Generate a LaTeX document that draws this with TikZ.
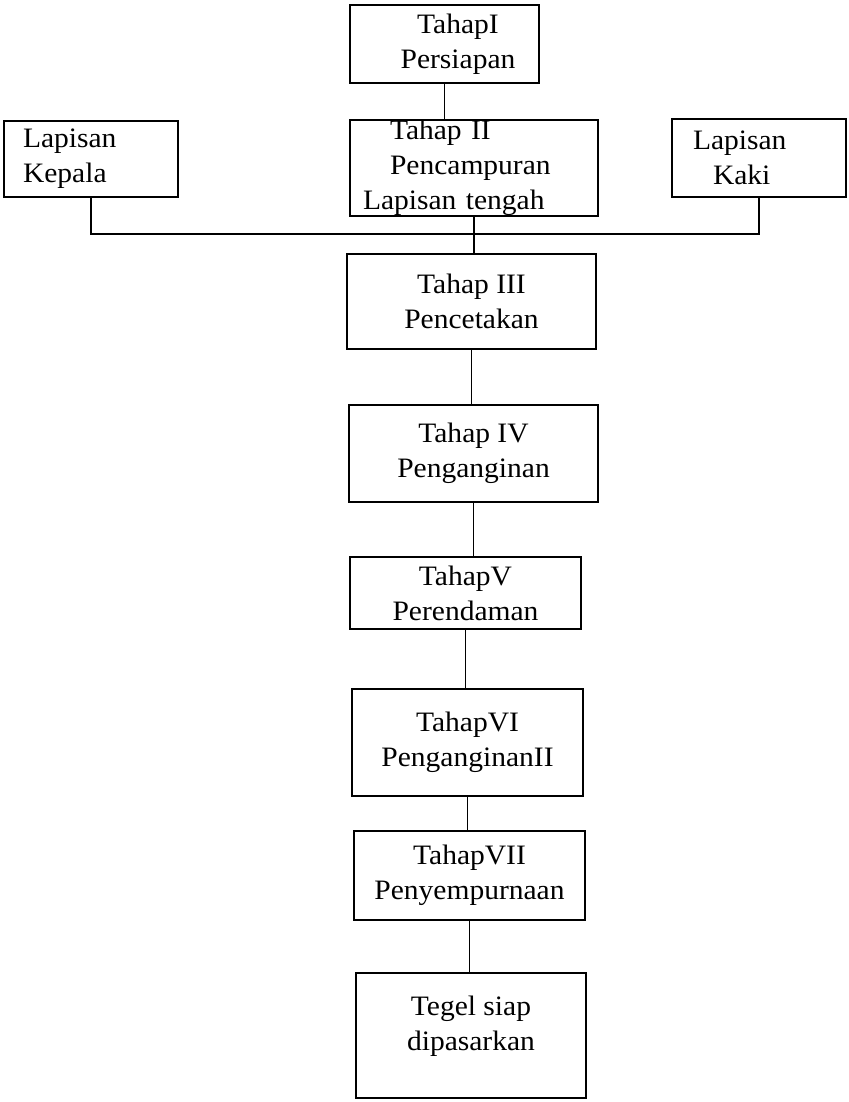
\documentclass[tikz,border=0pt]{standalone}
\usepackage{fontspec}
\setmainfont{Liberation Serif}[FakeStretch=1.05]
\usepackage{tikz}
\usetikzlibrary{calc}

\begin{document}
\begin{tikzpicture}[font=\fontsize{16}{19.8}\selectfont,
    stage/.style={draw, line width=0.7pt, align=center, inner sep=0pt},
    layer/.style={draw, line width=1.4pt, align=left, inner ysep=0pt}]
    \useasboundingbox (0,0) rectangle (16.96,22.04);
    \node[stage, minimum width=3.78cm, minimum height=1.56cm] (s1) at (8.89,21.16) {\hspace*{0.54cm}TahapI\\\hspace*{0.54cm}Persiapan};
    \node[layer, text width=2.72cm, inner xsep=0.38cm, minimum height=1.52cm] (kepala) at (1.82,18.86) {Lapisan\\Kepala};
    \node[stage, align=left, text width=4.44cm, inner xsep=0.26cm, minimum height=1.92cm] (s2) at (9.48,18.68) {\hspace*{0.54cm}Tahap II\\\hspace*{0.54cm}Pencampuran\\Lapisan tengah};
    \node[layer, text width=2.64cm, inner xsep=0.42cm, minimum height=1.56cm] (kaki) at (15.18,18.88) {Lapisan\\\hspace*{0.4cm}Kaki};
    \node[stage, minimum width=4.98cm, minimum height=1.90cm] (s3) at (9.43,16.01) {Tahap III\\Pencetakan};
    \node[stage, minimum width=4.98cm, minimum height=1.94cm] (s4) at (9.47,12.97) {Tahap IV\\Penganginan};
    \node[stage, minimum width=4.62cm, minimum height=1.44cm] (s5) at (9.31,10.18) {TahapV\\Perendaman};
    \node[stage, minimum width=4.62cm, minimum height=2.14cm] (s6) at (9.35,7.19) {TahapVI\\PenganginanII};
    \node[stage, minimum width=4.62cm, minimum height=1.78cm] (s7) at (9.39,4.53) {TahapVII\\Penyempurnaan};
    \node[stage, minimum width=4.60cm, minimum height=2.50cm, text depth=0.5cm] (s8) at (9.42,1.33) {Tegel siap\\dipasarkan};
    \coordinate (bus) at (9.34,17.36);
    \draw[line width=0.7pt] (s1.south) -- (s1.south |- s2.north);
    \draw[line width=1.4pt] (kepala.south) -- (kepala.south |- bus) -- (kaki.south |- bus) -- (kaki.south);
    \draw[line width=0.7pt] (s2.south) -- (s2.south |- s3.north);
    \draw[line width=0.7pt] (s3.south) -- (s3.south |- s4.north);
    \draw[line width=0.7pt] (s4.south) -- (s4.south |- s5.north);
    \draw[line width=0.7pt] (s5.south) -- (s5.south |- s6.north);
    \draw[line width=0.7pt] (s6.south) -- (s6.south |- s7.north);
    \draw[line width=0.7pt] (s7.south) -- (s7.south |- s8.north);
\end{tikzpicture}
\end{document}
